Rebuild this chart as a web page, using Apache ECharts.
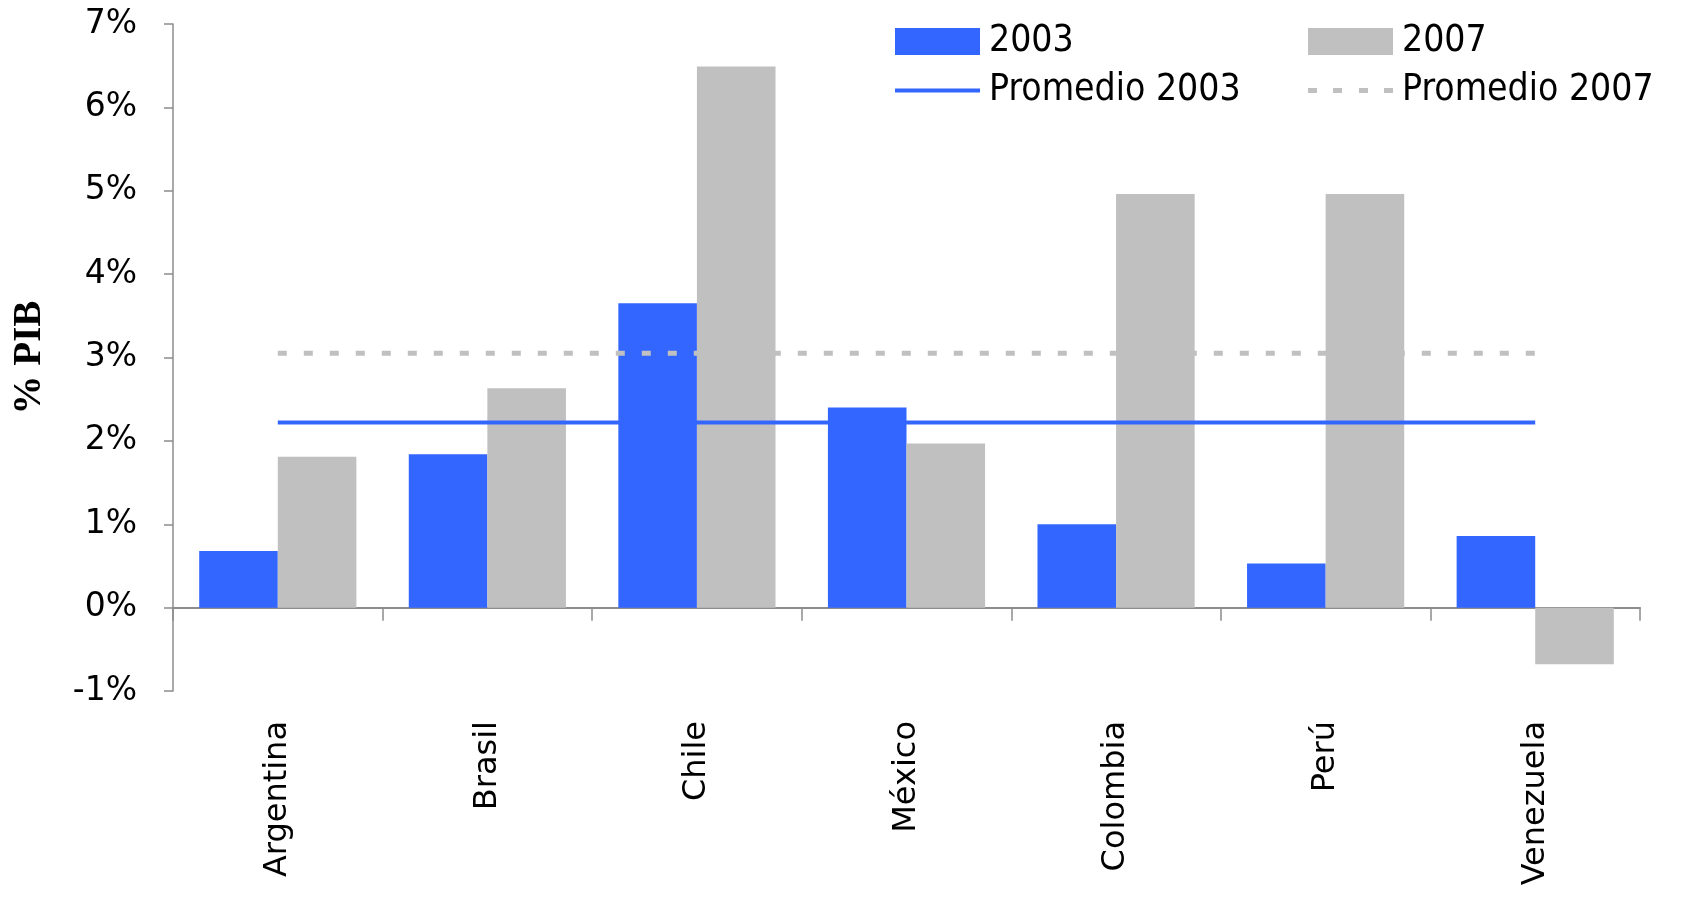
<!DOCTYPE html>
<html>
<head>
<meta charset="utf-8">
<script src="https://cdn.jsdelivr.net/npm/echarts@6/dist/echarts.min.js"></script>
<style>
  html, body { margin: 0; padding: 0; background: #fff; }
  #chart { width: 1690px; height: 915px; }
</style>
</head>
<body>
<div id="chart"></div>
<script>
// datos
const paises = ['Argentina', 'Brasil', 'Chile', 'México', 'Colombia', 'Perú', 'Venezuela'];
const valores2003 = [0.68, 1.84, 3.65, 2.40, 1.00, 0.53, 0.86];
const valores2007 = [1.81, 2.63, 6.49, 1.97, 4.96, 4.96, -0.68];
const promedio2003 = 2.22;
const promedio2007 = 3.05;

const azul = '#3366FF';
const gris = '#C0C0C0';
const ejeColor = '#8c8c8c';

// iconos de la leyenda para las líneas
const iconoLinea = 'path://M0,0h85v4h-85z';
const iconoPuntos = 'path://M0,0h9v5h-9zM25,0h9v5h-9zM51,0h9v5h-9zM76,0h9v5h-9z';

const textoLeyenda = {
  fontFamily: 'DejaVu Sans Condensed, DejaVu Sans',
  fontSize: 37,
  color: '#000',
  padding: [0, 0, 0, 4]
};

let chart = echarts.init(document.getElementById('chart'));
chart.setOption({
  animation: false,
  backgroundColor: '#fff',
  grid: { left: 173, right: 50, top: 24, bottom: 224, containLabel: false },
  legend: [{
    orient: 'vertical',
    left: 890, top: 18,
    itemWidth: 85, itemHeight: 27, itemGap: 12,
    textStyle: textoLeyenda,
    data: [{ name: '2003', icon: 'rect' }, { name: 'Promedio 2003', icon: iconoLinea }]
  }, {
    orient: 'vertical',
    left: 1303, top: 18,
    itemWidth: 85, itemHeight: 27, itemGap: 12,
    textStyle: textoLeyenda,
    data: [{ name: '2007', icon: 'rect' }, { name: 'Promedio 2007', icon: iconoPuntos }]
  }],
  xAxis: [{
    // eje en el cero, con marcas
    type: 'category',
    data: paises,
    axisLine: { onZero: true, lineStyle: { color: ejeColor, width: 2 } },
    axisTick: { show: true, length: 13, alignWithLabel: false, lineStyle: { color: ejeColor, width: 1.5 } },
    axisLabel: { show: false },
    splitLine: { show: false }
  }, {
    // etiquetas abajo
    type: 'category',
    data: paises,
    position: 'bottom',
    axisLine: { show: false, onZero: false },
    axisTick: { show: false },
    axisLabel: {
      rotate: 90, margin: 30, interval: 0,
      fontFamily: 'DejaVu Sans', fontSize: 32, color: '#000'
    }
  }],
  yAxis: {
    type: 'value',
    min: -1, max: 7, interval: 1,
    name: '% PIB',
    nameLocation: 'middle',
    nameGap: 124,
    nameTextStyle: { fontFamily: 'Liberation Serif', fontWeight: 'bold', fontSize: 39, color: '#000' },
    axisLine: { show: true, lineStyle: { color: ejeColor, width: 1.5 } },
    axisTick: { show: true, length: 9, lineStyle: { color: ejeColor, width: 1.5 } },
    splitLine: { show: false },
    axisLabel: {
      margin: 36,
      fontFamily: 'DejaVu Sans', fontSize: 33, color: '#000',
      formatter: v => v + '%'
    }
  },
  series: [{
    name: '2003',
    type: 'bar',
    data: valores2003,
    barGap: '0%',
    barCategoryGap: '25%',
    itemStyle: { color: azul }
  }, {
    name: '2007',
    type: 'bar',
    data: valores2007,
    barGap: '0%',
    barCategoryGap: '25%',
    itemStyle: { color: gris }
  }, {
    name: 'Promedio 2003',
    type: 'line',
    data: paises.map(() => promedio2003),
    symbol: 'none',
    z: 4,
    lineStyle: { color: azul, width: 4 },
    itemStyle: { color: azul }
  }, {
    name: 'Promedio 2007',
    type: 'line',
    data: paises.map(() => promedio2007),
    symbol: 'none',
    z: 4,
    lineStyle: { color: gris, width: 5, type: [9, 17] },
    itemStyle: { color: gris }
  }]
});
</script>
</body>
</html>
